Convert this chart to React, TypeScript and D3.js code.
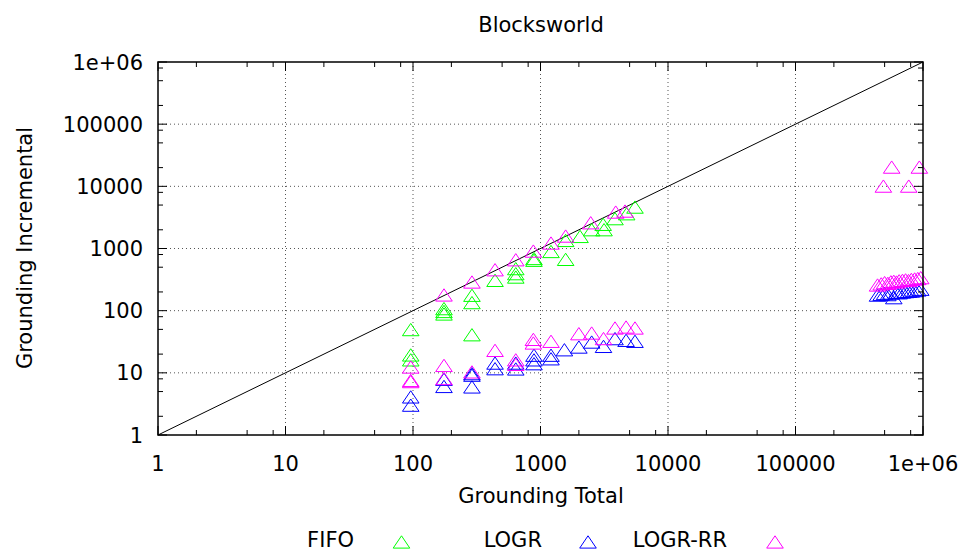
import React from "react";
import * as d3 from "d3";

const title = "Blocksworld";
const xLabel = "Grounding Total";
const yLabel = "Grounding Incremental";
const tickValues = [1, 10, 100, 1000, 10000, 100000, 1000000];
const tickLabels = ["1", "10", "100", "1000", "10000", "100000", "1e+06"];
const minorMultipliers = [2, 5, 8];

const fifoX = [96, 96, 96, 175, 175, 175, 290, 290, 290, 440, 640, 640, 640, 889, 889, 1209, 1575, 1575, 2042, 2520, 3100, 3150, 3840, 4740, 5510];
const fifoY = [46, 18, 15, 100, 90, 82, 164, 125, 38, 285, 440, 365, 322, 640, 600, 830, 1250, 620, 1450, 1860, 2270, 1860, 2800, 3360, 4300];

const logrX = [96, 96, 175, 175, 290, 290, 290, 440, 440, 640, 640, 889, 889, 889, 1209, 1209, 1540, 2000, 2520, 3120, 3840, 4690, 5510,
  440000, 470000, 500000, 530000, 560000, 590000, 620000, 650000, 690000, 730000, 770000, 810000, 860000, 910000, 960000];
const logrY = [3.8, 2.8, 7.3, 5.6, 9, 8.5, 5.5, 13.3, 10.8, 13.3, 10.7, 17.8, 15, 13, 17.8, 15.6, 21.8, 24.1, 29, 24.7, 32.9, 30.9, 29.8,
  165, 170, 175, 168, 178, 150, 182, 180, 185, 188, 190, 192, 195, 200, 205];

const rrX = [96, 96, 96, 175, 175, 175, 290, 290, 440, 440, 640, 640, 640, 879, 879, 879, 1209, 1209, 1575, 2000, 2477, 2520, 3120, 3890, 3840, 4600, 4690, 5510,
  489000, 568000, 773000, 936000,
  440000, 470000, 500000, 530000, 560000, 590000, 620000, 650000, 690000, 730000, 770000, 810000, 860000, 910000, 960000];
const rrY = [11.5, 7, 6.7, 166, 12.2, 7.5, 268, 9.6, 422, 21.3, 611, 15, 12.7, 843, 32, 28, 1135, 29.8, 1470, 39.5, 2405, 40.5, 33, 3574, 48.8, 3710, 50.6, 48.8,
  9350, 18900, 9350, 18900,
  240, 250, 262, 255, 270, 275, 268, 280, 285, 290, 283, 295, 300, 305, 315];

const seriesNames = ["FIFO", "LOGR", "LOGR-RR"];
const seriesColors = ["#00ff00", "#0000ff", "#ff00ff"];

const W = 964, H = 552;
const L = 158, R = 923, T = 62, B = 435;
const FONT = "DejaVu Sans, sans-serif";
const FS = 21;

function tri(cx: number, cy: number) {
  const hw = 8.3, up = 8.2, dn = 4.1;
  return `M${cx},${cy - up}L${cx - hw},${cy + dn}L${cx + hw},${cy + dn}Z`;
}

export default function App() {
  const x = d3.scaleLog().domain([1, 1e6]).range([L, R]);
  const y = d3.scaleLog().domain([1, 1e6]).range([B, T]);
  const minors: number[] = [];
  tickValues.slice(0, -1).forEach((t) => minorMultipliers.forEach((m) => minors.push(t * m)));
  const series = [
    { xs: fifoX, ys: fifoY },
    { xs: logrX, ys: logrY },
    { xs: rrX, ys: rrY },
  ];
  const legendText = [354, 542, 727];
  const legendMark = [401.5, 588, 775];
  return (
    <svg width={W} height={H} style={{ position: "absolute", left: 0, top: 0, background: "#fff" }} fontFamily={FONT}>
      <rect x={0} y={0} width={W} height={H} fill="#fff" />
      {tickValues.map((t, i) => (
        <g key={"g" + i}>
          {i > 0 && i < tickValues.length - 1 && (
            <>
              <line x1={x(t)} x2={x(t)} y1={T} y2={B} stroke="#555" strokeWidth={1} strokeDasharray="1,3" />
              <line x1={L} x2={R} y1={y(t)} y2={y(t)} stroke="#555" strokeWidth={1} strokeDasharray="1,3" />
            </>
          )}
        </g>
      ))}
      <line x1={x(1)} y1={y(1)} x2={x(1e6)} y2={y(1e6)} stroke="#000" strokeWidth={1} />
      {series.map((s, si) => (
        <g key={"s" + si}>
          {s.xs.map((xv, i) => (
            <path key={i} d={tri(x(xv), y(s.ys[i]))} fill="none" stroke={seriesColors[si]} strokeWidth={1} />
          ))}
        </g>
      ))}
      <rect x={L} y={T} width={R - L} height={B - T} fill="none" stroke="#000" strokeWidth={1.5} />
      {tickValues.map((t, i) => (
        <g key={"t" + i}>
          <line x1={x(t)} x2={x(t)} y1={B} y2={B - 9} stroke="#000" />
          <line x1={x(t)} x2={x(t)} y1={T} y2={T + 9} stroke="#000" />
          <line x1={L} x2={L + 9} y1={y(t)} y2={y(t)} stroke="#000" />
          <line x1={R} x2={R - 9} y1={y(t)} y2={y(t)} stroke="#000" />
          <text x={x(t)} y={471} textAnchor="middle" fontSize={FS}>{tickLabels[i]}</text>
          <text x={143} y={y(t) + 7.5} textAnchor="end" fontSize={FS}>{tickLabels[i]}</text>
        </g>
      ))}
      {minors.map((t, i) => (
        <g key={"m" + i}>
          <line x1={x(t)} x2={x(t)} y1={B} y2={B - 5} stroke="#000" />
          <line x1={x(t)} x2={x(t)} y1={T} y2={T + 5} stroke="#000" />
          <line x1={L} x2={L + 5} y1={y(t)} y2={y(t)} stroke="#000" />
          <line x1={R} x2={R - 5} y1={y(t)} y2={y(t)} stroke="#000" />
        </g>
      ))}
      <text x={541} y={32} textAnchor="middle" fontSize={FS}>{title}</text>
      <text x={541} y={503} textAnchor="middle" fontSize={FS}>{xLabel}</text>
      <text transform={`translate(32,248) rotate(-90)`} textAnchor="middle" fontSize={FS}>{yLabel}</text>
      {seriesNames.map((n, i) => (
        <g key={"l" + i}>
          <text x={legendText[i]} y={547} textAnchor="end" fontSize={FS}>{n}</text>
          <path d={tri(legendMark[i], 544)} fill="none" stroke={seriesColors[i]} strokeWidth={1} />
        </g>
      ))}
    </svg>
  );
}
